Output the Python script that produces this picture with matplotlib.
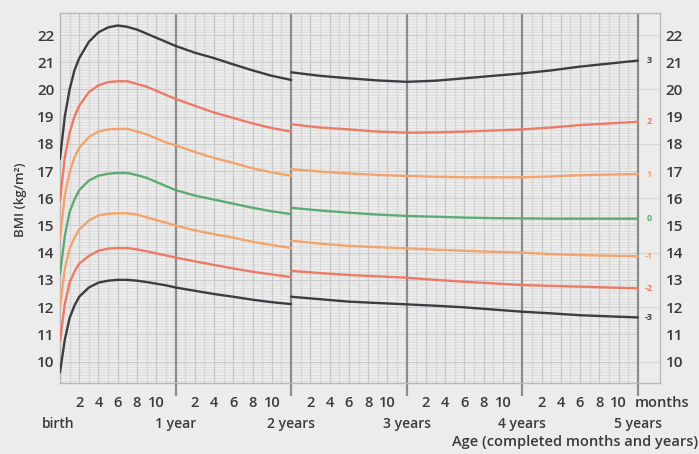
import numpy as np
import matplotlib.pyplot as plt

# ages in months, length-based part (birth to 2 years)
months_a = [0, 0.5, 1, 1.5, 2, 3, 4, 5, 6, 7, 8, 9, 10, 11, 12, 14, 16, 18, 20, 22, 24]
# height-based part (2 to 5 years)
months_b = [24, 27, 30, 33, 36, 39, 42, 45, 48, 51, 54, 57, 60]

z_labels = ["3", "2", "1", "0", "-1", "-2", "-3"]

bmi_a = {
    "3":  [17.45, 19.0, 20.0, 20.7, 21.15, 21.75, 22.1, 22.28, 22.35, 22.3, 22.2, 22.05, 21.9, 21.75, 21.6, 21.35, 21.15, 20.92, 20.7, 20.5, 20.35],
    "2":  [15.9, 17.5, 18.4, 19.0, 19.4, 19.9, 20.15, 20.27, 20.3, 20.3, 20.2, 20.1, 19.95, 19.8, 19.65, 19.4, 19.15, 18.95, 18.75, 18.58, 18.45],
    "1":  [14.5, 16.1, 16.95, 17.5, 17.85, 18.25, 18.45, 18.53, 18.55, 18.55, 18.45, 18.35, 18.2, 18.05, 17.95, 17.7, 17.48, 17.3, 17.1, 16.95, 16.83],
    "0":  [13.2, 14.6, 15.5, 15.95, 16.3, 16.65, 16.83, 16.9, 16.93, 16.93, 16.85, 16.75, 16.6, 16.45, 16.3, 16.1, 15.95, 15.8, 15.65, 15.52, 15.42],
    "-1": [12.0, 13.4, 14.15, 14.55, 14.85, 15.18, 15.37, 15.43, 15.45, 15.45, 15.4, 15.3, 15.2, 15.1, 15.0, 14.82, 14.68, 14.55, 14.4, 14.28, 14.17],
    "-2": [10.75, 12.1, 12.9, 13.3, 13.6, 13.88, 14.07, 14.15, 14.17, 14.17, 14.12, 14.05, 13.97, 13.9, 13.82, 13.68, 13.55, 13.42, 13.3, 13.2, 13.1],
    "-3": [9.6, 10.8, 11.6, 12.05, 12.38, 12.72, 12.9, 12.97, 13.0, 13.0, 12.97, 12.92, 12.86, 12.8, 12.72, 12.6, 12.48, 12.38, 12.27, 12.18, 12.11],
}
bmi_b = {
    "3":  [20.63, 20.5, 20.41, 20.33, 20.28, 20.32, 20.41, 20.5, 20.59, 20.7, 20.84, 20.95, 21.06],
    "2":  [18.72, 18.6, 18.53, 18.45, 18.41, 18.42, 18.45, 18.49, 18.53, 18.6, 18.69, 18.75, 18.81],
    "1":  [17.07, 16.98, 16.91, 16.86, 16.82, 16.79, 16.77, 16.77, 16.77, 16.8, 16.85, 16.87, 16.89],
    "0":  [15.65, 15.55, 15.47, 15.4, 15.35, 15.32, 15.29, 15.27, 15.26, 15.25, 15.25, 15.25, 15.25],
    "-1": [14.44, 14.33, 14.25, 14.2, 14.16, 14.11, 14.07, 14.03, 14.0, 13.95, 13.91, 13.89, 13.87],
    "-2": [13.33, 13.25, 13.18, 13.13, 13.08, 13.0, 12.93, 12.87, 12.81, 12.78, 12.75, 12.72, 12.69],
    "-3": [12.38, 12.29, 12.2, 12.15, 12.1, 12.05, 11.99, 11.91, 11.83, 11.77, 11.7, 11.66, 11.62],
}

year_names = ["birth", "1 year", "2 years", "3 years", "4 years", "5 years"]
month_ticks = [2, 4, 6, 8, 10]
y_ticks = list(range(10, 23))

colors = {"3": "#3e3c42", "2": "#ec7a66", "1": "#f3a46c", "0": "#5eaa74",
          "-1": "#f3a46c", "-2": "#ec7a66", "-3": "#3e3c42"}

bg = "#ececec"
txt = "#3a3a3a"
plt.rcParams['font.family'] = ['Open Sans', 'DejaVu Sans']

fig = plt.figure(figsize=(6.99, 4.54), dpi=100, facecolor=bg)
ax = fig.add_axes([0.0858, 0.1564, 0.8584, 0.815])
ax.set_facecolor(bg)
ymin, ymax = 9.21, 22.81
xmax = 62.3
ax.set_xlim(0, xmax)
ax.set_ylim(ymin, ymax)

# fine grid
for v in np.arange(9.3, 22.81, 0.1):
    if abs(v - round(v)) < 1e-6:
        continue
    ax.hlines(v, 0, 60, color="#dcdcdc", lw=0.5, zorder=1)
for v in y_ticks:
    ax.hlines(v, 0, 60, color="#cbcbcb", lw=0.8, zorder=1)
for v in range(10, 23, 2):
    ax.hlines(v, 60, xmax, color="#d6d6d6", lw=0.8, zorder=1)
for m in range(1, 60):
    if m % 12 == 0:
        continue
    c = "#c8c8c8" if m % 2 == 0 else "#d6d6d6"
    ax.axvline(m, color=c, lw=0.9, zorder=1)
for yr in range(1, 6):
    ax.axvline(yr * 12, color="#8c8c8c", lw=1.6, zorder=2)

for z in z_labels:
    ax.plot(months_a, bmi_a[z], color=colors[z], lw=1.7, zorder=3,
            solid_capstyle="round", solid_joinstyle="round")
    ax.plot(months_b, bmi_b[z], color=colors[z], lw=1.7, zorder=3,
            solid_capstyle="round", solid_joinstyle="round")
    ax.text(61.15, bmi_b[z][-1], z, color=colors[z], fontsize=6.5,
            ha="center", va="center", fontweight="bold")

for s in ax.spines.values():
    s.set_color("#b8b8b8")
    s.set_linewidth(1.0)

ax.set_yticks(y_ticks)
ax.tick_params(axis="y", length=0, labelsize=11, labelcolor=txt,
               labelright=True, pad=4)
for lab in ax.get_yticklabels():
    lab.set_fontweight("semibold")
ax.set_xticks([12 * k for k in range(1, 6)])
ax.set_xticklabels([])
ax.tick_params(axis="x", length=9, width=1.6, color="#8c8c8c")

# month labels and year labels
tr = ax.get_xaxis_transform()
for yr in range(5):
    for m in month_ticks:
        ax.text(yr * 12 + m, -0.055, str(m), transform=tr, ha="center",
                va="center", fontsize=10.5, color=txt, fontweight="semibold")
ax.text(59.7, -0.055, "months", transform=tr, ha="left", va="center",
        fontsize=10.5, color=txt, fontweight="semibold")
for k, name in enumerate(year_names):
    ax.text(k * 12 - (0.2 if k == 0 else 0), -0.11, name, transform=tr,
            ha="center", va="center", fontsize=10, color=txt,
            fontweight="semibold")

fig.text(0.999, 0.027, "Age (completed months and years)", ha="right",
         va="center", fontsize=10.5, color=txt, fontweight="semibold")
fig.text(0.029, 0.56, "BMI (kg/m²)", rotation=90, ha="center", va="center",
         fontsize=9.5, color=txt, fontweight="semibold")

fig.savefig("out.png", dpi=100, facecolor=bg)
